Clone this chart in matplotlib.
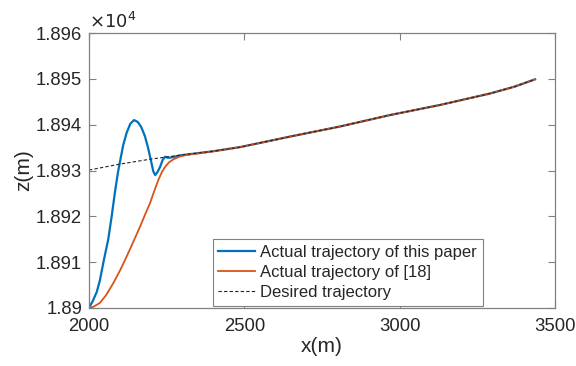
import numpy as np
import matplotlib
matplotlib.use("Agg")
import matplotlib.pyplot as plt

plt.rcParams['font.family'] = ['Liberation Sans', 'DejaVu Sans']

# desired trajectory
x_des = [2000, 2100, 2200, 2300, 2400, 2486, 2647, 2808, 2969, 3130, 3291, 3370, 3436]
z_des = [18930.1, 18931.4, 18932.5, 18933.4, 18934.2, 18935.1, 18937.4, 18939.6,
         18942.1, 18944.3, 18946.8, 18948.3, 18949.9]

# actual trajectory of this paper, start part (joins the desired path after ~2300)
x_blue_head = [2000, 2012, 2025, 2035, 2048, 2062, 2073, 2084, 2093, 2100, 2110, 2121,
               2133, 2145, 2157, 2168, 2180, 2190, 2200, 2207, 2213, 2220, 2229, 2237,
               2245, 2253, 2261, 2275, 2293]
z_blue_head = [18900, 18901.5, 18903.5, 18906, 18910.5, 18915, 18920, 18925.5, 18929.5,
               18932, 18935.5, 18938.2, 18940.2, 18941, 18940.6, 18939.5, 18937.5,
               18935, 18932, 18929.8, 18929, 18929.6, 18930.8, 18932.3, 18933,
               18932.8, 18932.8, 18933, 18933.3]

# actual trajectory of [18], start part
x_or_head = [2000, 2015, 2035, 2055, 2078, 2100, 2121, 2143, 2164, 2180, 2196, 2210,
             2223, 2235, 2245, 2258, 2271, 2290, 2314]
z_or_head = [18900, 18900.3, 18901.1, 18902.8, 18905.4, 18908.2, 18911.2, 18914.5,
             18917.7, 18920.3, 18922.8, 18925.5, 18927.9, 18929.7, 18930.8, 18931.8,
             18932.4, 18933, 18933.4]

x_tail = [x for x in x_des if x > 2320]
z_tail = [z for x, z in zip(x_des, z_des) if x > 2320]

x_blue = x_blue_head + x_tail
z_blue = z_blue_head + z_tail
x_or = x_or_head + x_tail
z_or = z_or_head + z_tail

x_ticks = [2000, 2500, 3000, 3500]
z_ticks = [18900, 18910, 18920, 18930, 18940, 18950, 18960]

fig = plt.figure(figsize=(5.76, 3.66), dpi=100)
ax = fig.add_axes([0.1545, 0.1585, 0.809, 0.7513])

ax.plot(x_blue, z_blue, color='#0072BD', lw=1.6, label='Actual trajectory of this paper')
ax.plot(x_or, z_or, color='#D95319', lw=1.3, label='Actual trajectory of [18]')
ax.plot(x_des, z_des, color='#222222', lw=0.8, ls=(0, (3, 2)), label='Desired trajectory')

ax.set_xlim(2000, 3500)
ax.set_ylim(18900, 18960)
ax.set_xticks(x_ticks)
ax.set_yticks(z_ticks)
ax.set_xticklabels([str(v) for v in x_ticks])
ax.set_yticklabels([f"{v / 1e4:g}" for v in z_ticks])

gray = '#808080'
txt = '#262626'
for s in ax.spines.values():
    s.set_color(gray)
    s.set_linewidth(0.9)
ax.tick_params(direction='in', top=True, right=True, length=5, width=0.8,
               color=gray, labelcolor=txt, labelsize=13.3)
ax.tick_params(axis='x', pad=7)
ax.tick_params(axis='y', pad=5)

ax.set_xlabel('x(m)', fontsize=15, color=txt, labelpad=2)
ax.set_ylabel('z(m)', fontsize=15, color=txt, labelpad=2)
ax.text(0.0, 1.005, r'$\times10^4$', transform=ax.transAxes, fontsize=13,
        color=txt, ha='left', va='bottom')

leg = ax.legend(loc='lower right', bbox_to_anchor=(0.845, 0.007), fontsize=12,
                handlelength=2.2, handletextpad=0.3, labelspacing=0.3,
                borderpad=0.35, borderaxespad=0, fancybox=False, framealpha=1,
                edgecolor=gray)
leg.get_frame().set_linewidth(0.8)
for t in leg.get_texts():
    t.set_color(txt)

fig.savefig('out.png', dpi=100)
